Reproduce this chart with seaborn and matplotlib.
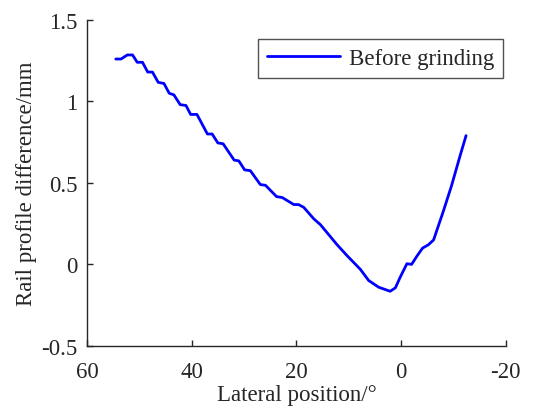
import numpy as np
import pandas as pd
import matplotlib
matplotlib.use("Agg")
import matplotlib.pyplot as plt
import seaborn as sns

# values
lateral_position = [54.5, 53.5, 52.3, 51.3, 50.4, 49.4, 48.4, 47.5, 46.4, 45.3,
                    44.3, 43.4, 42.2, 41.1, 40.2, 39.0, 37.0, 36.1, 35.0, 34.0,
                    31.9, 31.0, 29.9, 28.8, 26.9, 25.9, 23.8, 22.7, 20.5, 19.6,
                    18.6, 16.7, 15.4, 12.3, 10.4, 7.8, 6.2, 4.3, 2.1, 1.1,
                    0.2, -1.1, -2.0, -3.0, -4.1, -5.2, -6.2, -8.1, -9.6, -11.2,
                    -12.4]
profile_diff = [1.26, 1.26, 1.285, 1.285, 1.24, 1.24, 1.18, 1.18, 1.117, 1.11,
                1.05, 1.04, 0.98, 0.975, 0.92, 0.92, 0.80, 0.80, 0.745, 0.74,
                0.64, 0.635, 0.58, 0.575, 0.49, 0.485, 0.416, 0.41, 0.367, 0.367,
                0.35, 0.28, 0.243, 0.123, 0.056, -0.03, -0.099, -0.14, -0.165, -0.144,
                -0.08, 0.004, 0.0, 0.05, 0.10, 0.12, 0.15, 0.33, 0.48, 0.66,
                0.79]

x_ticks = [60, 40, 20, 0, -20]
y_ticks = [-0.5, 0, 0.5, 1, 1.5]
y_tick_labels = ["-0.5", "0", "0.5", "1", "1.5"]


def main():
    sns.set_style("ticks")
    plt.rcParams["font.family"] = ["Liberation Serif", "DejaVu Serif"]
    plt.rcParams["xtick.direction"] = "in"
    plt.rcParams["ytick.direction"] = "in"

    df = pd.DataFrame({"x": lateral_position, "y": profile_diff})

    fig = plt.figure(figsize=(5.37, 4.10), dpi=100)
    ax = fig.add_axes([0.162, 0.154, 0.780, 0.795])

    sns.lineplot(data=df, x="x", y="y", sort=False, color="#0000ff",
                 linewidth=2, label="Before grinding", ax=ax)

    ax.set_xlim(60, -20)
    ax.set_ylim(-0.5, 1.5)
    ax.set_xticks(x_ticks)
    ax.set_xticklabels([str(t) for t in x_ticks])
    ax.set_yticks(y_ticks)
    ax.set_yticklabels(y_tick_labels)
    ax.tick_params(labelsize=16.5, color="#262626", labelcolor="#262626",
                   length=4, width=1)
    ax.tick_params(axis="x", pad=11)
    ax.tick_params(axis="y", pad=7)
    ax.set_xlabel("Lateral position/°", fontsize=16.5, color="#262626",
                  labelpad=1)
    ax.set_ylabel("Rail profile difference/mm", fontsize=16.5,
                  color="#262626", labelpad=3)
    for side in ["left", "bottom"]:
        ax.spines[side].set_color("#262626")
        ax.spines[side].set_linewidth(1)
    sns.despine(ax=ax)

    leg = ax.legend(loc="upper right", bbox_to_anchor=(0.993, 0.942),
                    fontsize=16.5, frameon=True, fancybox=False,
                    handlelength=3.2, borderaxespad=0, borderpad=0.4,
                    handletextpad=0.35)
    leg.get_frame().set_edgecolor("#262626")
    leg.get_frame().set_linewidth(1)

    fig.savefig("out.png", dpi=100)


if __name__ == "__main__":
    main()
